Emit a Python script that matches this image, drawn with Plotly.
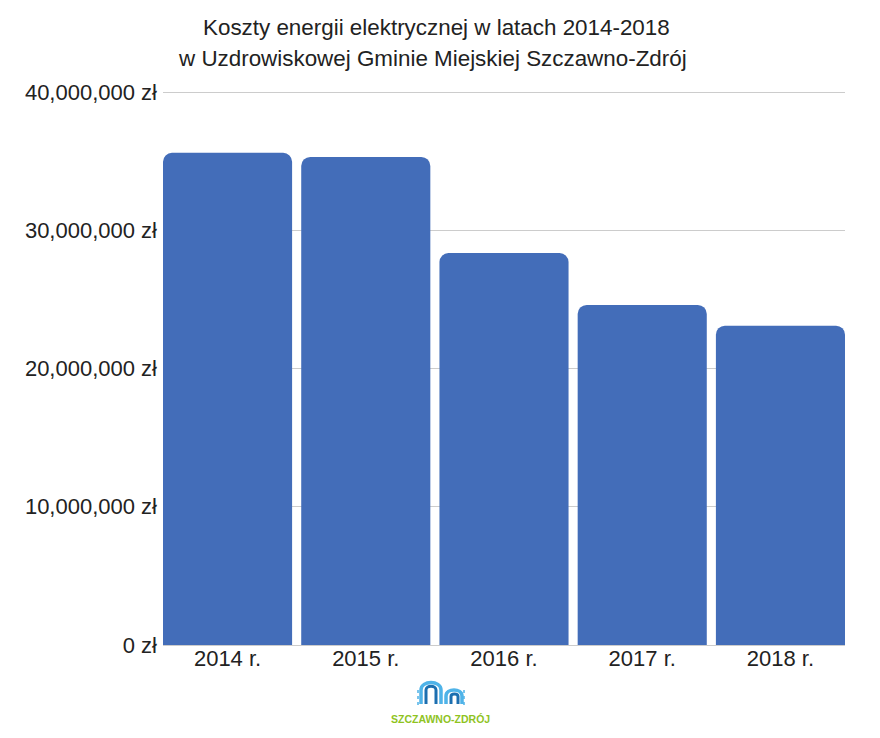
import plotly.graph_objects as go

# Chart data
years = ["2014 r.", "2015 r.", "2016 r.", "2017 r.", "2018 r."]
costs = [35600000, 35300000, 28350000, 24600000, 23100000]
tick_values = [0, 10000000, 20000000, 30000000, 40000000]
tick_labels = ["0 zł", "10,000,000 zł", "20,000,000 zł", "30,000,000 zł", "40,000,000 zł"]

FONT = "Liberation Sans"

# Plot area on the page, the page itself has an 8px body margin
# the top is 2px above the 40M line, plotly drops a grid line right at the edge
PLOT_LEFT = 163
PLOT_RIGHT = 845
PLOT_TOP = 90
PLOT_BOTTOM = 645
PAGE_MARGIN = 8


def px_x(x):
    return (x - PLOT_LEFT) / (PLOT_RIGHT - PLOT_LEFT)


def px_y(y):
    return (PLOT_BOTTOM - y) / (PLOT_BOTTOM - PLOT_TOP)


def arch(x0, x1, top, bottom):
    # Logo arch drawn in page pixels
    r = (x1 - x0) / 2
    return (
        f"M {px_x(x0)},{px_y(bottom)} L {px_x(x0)},{px_y(top + r)} "
        f"C {px_x(x0)},{px_y(top)} {px_x(x1)},{px_y(top)} {px_x(x1)},{px_y(top + r)} "
        f"L {px_x(x1)},{px_y(bottom)}"
    )


fig = go.Figure(go.Bar(x=years, y=costs, marker=dict(color="#436db9", line_width=0)))

fig.update_layout(
    width=872,
    height=730,
    margin=dict(l=PLOT_LEFT - PAGE_MARGIN, r=35, t=PLOT_TOP - PAGE_MARGIN, b=93),
    bargap=0.066,
    barcornerradius=9,
    showlegend=False,
    plot_bgcolor="white",
    paper_bgcolor="white",
    font=dict(family=FONT, size=22, color="#222222"),
)
fig.update_xaxes(
    range=[-0.467, 4.467],
    showgrid=False,
    showline=True,
    linecolor="#cccccc",
    ticks="",
    ticklabelstandoff=-6,
    tickfont=dict(size=22),
)
fig.update_yaxes(
    range=[0, 40145000],
    tickvals=tick_values,
    ticktext=tick_labels,
    gridcolor="#cccccc",
    gridwidth=1,
    zeroline=False,
    ticks="",
    ticklabelstandoff=5,
    tickfont=dict(size=22),
)

# Two line title, the lines are not quite on the same centre
fig.add_annotation(text="Koszty energii elektrycznej w latach 2014-2018", xref="paper", yref="paper",
                   x=px_x(436), y=px_y(27), xanchor="center", yanchor="middle", showarrow=False,
                   font=dict(size=22.4, color="#222222"))
fig.add_annotation(text="w Uzdrowiskowej Gminie Miejskiej Szczawno-Zdrój", xref="paper", yref="paper",
                   x=px_x(432.5), y=px_y(59), xanchor="center", yanchor="middle", showarrow=False,
                   font=dict(size=22.4, color="#222222"))

# Logo
fig.add_annotation(text="<b>SZCZAWNO-ZDRÓJ</b>", xref="paper", yref="paper",
                   x=px_x(440), y=px_y(719), xanchor="center", yanchor="middle", showarrow=False,
                   font=dict(size=10.5, color="#8fc31f"))
for x0, x1, top, bottom, colour, w in [
    (421, 441, 680, 704, "#4fb3e8", 3.5),
    (426, 436, 685, 704, "#1c6fb0", 3),
    (446, 462, 688, 704, "#4fb3e8", 3.5),
    (451, 458, 693, 704, "#1c6fb0", 3),
]:
    fig.add_shape(type="path", xref="paper", yref="paper", path=arch(x0, x1, top, bottom),
                  line=dict(color=colour, width=w))
for x in [418, 464]:
    fig.add_shape(type="line", xref="paper", yref="paper", x0=px_x(x), x1=px_x(x),
                  y0=px_y(690), y1=px_y(705), line=dict(color="#4fb3e8", width=1.5, dash="dot"))

fig.write_html("out.html")
